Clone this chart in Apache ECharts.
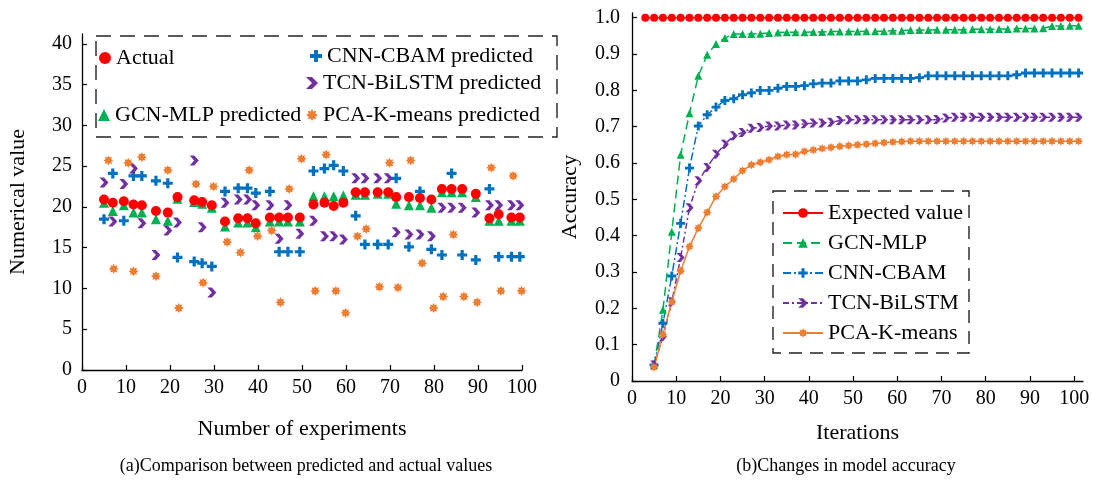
<!DOCTYPE html>
<html>
<head>
<meta charset="utf-8">
<script src="https://cdn.jsdelivr.net/npm/echarts@6/dist/echarts.min.js"></script>
<style>html,body{margin:0;padding:0;background:#fff;}#c{width:1093px;height:480px;}</style>
</head>
<body>
<div id="c"></div>
<script>
// ---------- Left chart data: (a) predicted vs actual ----------
const expX = [5, 7, 9.5, 11.7, 13.6, 16.8, 19.5, 21.7, 25.5, 27.3, 29.5, 32.5, 35.5, 37.6, 39.5, 42.7, 44.8, 46.8, 49.5, 52.6, 55.1, 57.2, 59.4, 62.2, 64.3, 67.2, 69.6, 71.4, 74.3, 76.8, 79.4, 81.8, 84, 86.4, 89.5, 92.6, 94.7, 97.6, 99.5];
const actualVals = [20.9, 20.5, 20.7, 20.3, 20.2, 19.5, 19.3, 21.2, 20.8, 20.6, 20.2, 18.2, 18.6, 18.6, 18.0, 18.7, 18.7, 18.7, 18.7, 20.3, 20.5, 20.1, 20.5, 21.8, 21.8, 21.8, 21.8, 21.2, 21.2, 21.1, 20.9, 22.2, 22.2, 22.2, 21.6, 18.6, 19.1, 18.7, 18.7];
const gcnPred = [20.5, 19.5, 20.2, 19.3, 19.3, 18.5, 18.3, 21.0, 20.6, 20.4, 19.9, 17.6, 18.1, 18.1, 17.5, 18.2, 18.2, 18.2, 18.2, 21.3, 21.3, 21.3, 21.4, 21.5, 21.5, 21.6, 21.6, 20.4, 20.2, 20.2, 19.9, 21.8, 21.8, 21.8, 21.2, 18.3, 18.3, 18.3, 18.3];
const cnnPred = [18.5, 24.1, 18.3, 23.8, 23.8, 23.2, 22.9, 13.8, 13.3, 13.1, 12.7, 21.9, 22.3, 22.3, 21.7, 21.9, 14.5, 14.5, 14.5, 24.4, 24.7, 25.1, 24.4, 18.9, 15.4, 15.4, 15.4, 23.5, 15.1, 21.9, 14.8, 14.1, 24.1, 14.1, 13.5, 22.2, 13.9, 13.9, 13.9];
const tcnPred = [23.0, 18.2, 22.8, 24.7, 18.0, 14.1, 17.1, 18.1, 25.7, 17.5, 9.5, 20.5, 20.9, 20.9, 20.2, 20.2, 16.1, 20.2, 16.7, 18.3, 16.4, 16.4, 16.0, 23.5, 23.5, 23.5, 23.5, 16.9, 16.6, 16.6, 16.4, 19.9, 19.9, 19.9, 19.3, 20.2, 20.2, 20.2, 20.2];
const pcaX = [6.0, 7.2, 10.5, 11.7, 13.6, 16.8, 19.5, 22.0, 25.9, 27.5, 29.9, 33.0, 36.0, 38.0, 39.9, 43.1, 45.1, 47.1, 49.9, 53.0, 55.5, 57.7, 59.9, 62.6, 64.6, 67.6, 69.9, 71.8, 74.7, 77.3, 79.9, 82.1, 84.4, 86.8, 89.8, 93.0, 95.2, 98.0, 99.9];
const pcaPred = [25.7, 12.4, 25.4, 12.1, 26.1, 11.5, 24.5, 7.6, 22.8, 10.7, 22.5, 15.7, 14.4, 24.5, 16.4, 17.1, 8.3, 22.2, 25.9, 9.7, 26.4, 9.7, 7.0, 16.4, 17.3, 10.2, 25.4, 10.1, 25.7, 13.1, 7.6, 9.0, 16.6, 9.0, 8.3, 24.8, 9.7, 23.8, 9.7];
const leftXTicks = [0, 10, 20, 30, 40, 50, 60, 70, 80, 90, 100];
const leftYTicks = [0, 5, 10, 15, 20, 25, 30, 35, 40];

// ---------- Right chart data: (b) accuracy vs iterations ----------
const expectedX = [3, 5, 7, 9, 11, 13, 15, 17, 19, 21, 23, 25, 27, 29, 31, 33, 35, 37, 39, 41, 43, 45, 47, 49, 51, 53, 55, 57, 59, 61, 63, 65, 67, 69, 71, 73, 75, 77, 79, 81, 83, 85, 87, 89, 91, 93, 95, 97, 99, 101];
const expectedVals = [1, 1, 1, 1, 1, 1, 1, 1, 1, 1, 1, 1, 1, 1, 1, 1, 1, 1, 1, 1, 1, 1, 1, 1, 1, 1, 1, 1, 1, 1, 1, 1, 1, 1, 1, 1, 1, 1, 1, 1, 1, 1, 1, 1, 1, 1, 1, 1, 1, 1];
const iterX = [5, 7, 9, 11, 13, 15, 17, 19, 21, 23, 25, 27, 29, 31, 33, 35, 37, 39, 41, 43, 45, 47, 49, 51, 53, 55, 57, 59, 61, 63, 65, 67, 69, 71, 73, 75, 77, 79, 81, 83, 85, 87, 89, 91, 93, 95, 97, 99, 101];
const gcnAcc = [0.044, 0.196, 0.411, 0.623, 0.737, 0.840, 0.898, 0.928, 0.944, 0.955, 0.955, 0.955, 0.956, 0.958, 0.959, 0.960, 0.960, 0.960, 0.961, 0.961, 0.962, 0.962, 0.962, 0.962, 0.963, 0.963, 0.963, 0.964, 0.964, 0.966, 0.966, 0.966, 0.967, 0.967, 0.967, 0.967, 0.968, 0.968, 0.968, 0.969, 0.969, 0.970, 0.970, 0.970, 0.971, 0.977, 0.977, 0.978, 0.978];
const cnnAcc = [0.044, 0.159, 0.289, 0.434, 0.586, 0.702, 0.733, 0.754, 0.772, 0.777, 0.788, 0.793, 0.800, 0.800, 0.806, 0.811, 0.811, 0.813, 0.818, 0.820, 0.820, 0.826, 0.826, 0.826, 0.829, 0.833, 0.833, 0.833, 0.833, 0.833, 0.835, 0.840, 0.840, 0.840, 0.840, 0.840, 0.840, 0.840, 0.840, 0.840, 0.840, 0.843, 0.848, 0.848, 0.848, 0.848, 0.848, 0.848, 0.848];
const tcnAcc = [0.044, 0.122, 0.218, 0.340, 0.477, 0.551, 0.588, 0.624, 0.652, 0.675, 0.684, 0.696, 0.698, 0.702, 0.702, 0.705, 0.705, 0.708, 0.710, 0.710, 0.712, 0.717, 0.719, 0.719, 0.719, 0.719, 0.719, 0.719, 0.719, 0.719, 0.719, 0.719, 0.720, 0.724, 0.726, 0.726, 0.726, 0.726, 0.726, 0.726, 0.726, 0.726, 0.726, 0.726, 0.726, 0.726, 0.726, 0.726, 0.726];
const pcaAcc = [0.038, 0.128, 0.218, 0.303, 0.370, 0.421, 0.464, 0.508, 0.535, 0.556, 0.579, 0.595, 0.602, 0.609, 0.618, 0.623, 0.624, 0.632, 0.636, 0.640, 0.643, 0.646, 0.648, 0.650, 0.652, 0.654, 0.656, 0.658, 0.659, 0.660, 0.660, 0.660, 0.660, 0.660, 0.660, 0.660, 0.660, 0.660, 0.660, 0.660, 0.660, 0.660, 0.660, 0.660, 0.660, 0.660, 0.660, 0.660, 0.660];
const rightXTicks = [0, 10, 20, 30, 40, 50, 60, 70, 80, 90, 100];
const rightYTicks = [0, 0.1, 0.2, 0.3, 0.4, 0.5, 0.6, 0.7, 0.8, 0.9, 1.0];

// ---------- styling ----------
const FONT = "'Liberation Serif', 'Times New Roman', serif";
const C = { red: '#FF0000', green: '#00B050', blue: '#0070C0', purple: '#7030A0', orange: '#ED7D31' };
const PLUS = 'path://M3.4,0 L6.6,0 L6.6,3.4 L10,3.4 L10,6.6 L6.6,6.6 L6.6,10 L3.4,10 L3.4,6.6 L0,6.6 L0,3.4 L3.4,3.4 Z';
const CHEV = 'path://M0,0 L5,0 L10,5 L5,10 L0,10 L5,5 Z';
function starPath(n, ro, ri) {
  let s = 'path://';
  for (let i = 0; i < 2 * n; i++) {
    const r = i % 2 ? ri : ro;
    const a = Math.PI * i / n - Math.PI / 2;
    s += (i ? 'L' : 'M') + (10 + r * Math.cos(a)).toFixed(2) + ',' + (10 + r * Math.sin(a)).toFixed(2) + ' ';
  }
  return s + 'Z';
}
const STAR = starPath(8, 10, 6.2);
const zip = (xs, ys) => xs.map((x, i) => [x, ys[i]]);

function tickCfg(vals) { return { show: true, inside: true, length: 5, customValues: vals, lineStyle: { color: '#000', width: 1.2 } }; }
function labelCfg(vals, margin, fmt) {
  const o = { color: '#000', fontFamily: FONT, fontSize: 20, margin: margin, customValues: vals };
  if (fmt) o.formatter = fmt;
  return o;
}
const axisLine = { show: true, onZero: false, lineStyle: { color: '#000', width: 1.3 } };
const nameStyle = { color: '#000', fontFamily: FONT, fontSize: 22 };

const legendText = { color: '#000', fontFamily: FONT, fontSize: 22, lineHeight: 24 };
function leftLegend(name, left, top) {
  return { data: [name], left: left, top: top, itemWidth: 12, itemHeight: 12, selectedMode: false, textStyle: legendText, padding: 0 };
}
function sc(color) { return { color: color, opacity: 1 }; }

const option = {
  backgroundColor: '#fff',
  animation: false,
  grid: [
    { left: 82, top: 34, width: 440, height: 336 },
    { left: 632, top: 13, width: 451, height: 368 }
  ],
  xAxis: [
    { gridIndex: 0, type: 'value', min: 0, max: 100, name: 'Number of experiments', nameLocation: 'middle', nameGap: 48, nameTextStyle: nameStyle,
      axisLine: axisLine, splitLine: { show: false }, axisTick: tickCfg(leftXTicks), axisLabel: labelCfg(leftXTicks, 8) },
    { gridIndex: 1, type: 'value', min: 0, max: 102, name: 'Iterations', nameLocation: 'middle', nameGap: 41, nameTextStyle: nameStyle,
      axisLine: axisLine, splitLine: { show: false }, axisTick: tickCfg(rightXTicks), axisLabel: labelCfg(rightXTicks, 8) }
  ],
  yAxis: [
    { gridIndex: 0, type: 'value', min: 0, max: 41.2, name: 'Numerical value', nameLocation: 'middle', nameGap: 53, nameTextStyle: nameStyle,
      axisLine: axisLine, splitLine: { show: false }, axisTick: tickCfg(leftYTicks), axisLabel: labelCfg(leftYTicks, 10) },
    { gridIndex: 1, type: 'value', min: 0, max: 1.013, name: 'Accuracy', nameLocation: 'middle', nameGap: 51, nameTextStyle: nameStyle,
      axisLine: axisLine, splitLine: { show: false }, axisTick: tickCfg(rightYTicks),
      axisLabel: labelCfg(rightYTicks, 12, v => (Math.abs(v) < 1e-9 ? '0' : v.toFixed(1))) }
  ],
  legend: [
    leftLegend('Actual', 99, 46),
    leftLegend('CNN-CBAM predicted', 310, 44),
    leftLegend('TCN-BiLSTM predicted', 306, 71),
    leftLegend('GCN-MLP predicted', 98, 103),
    leftLegend('PCA-K-means predicted', 306, 103),
    { data: ['Expected value', 'GCN-MLP', 'CNN-CBAM', 'TCN-BiLSTM', 'PCA-K-means'], orient: 'vertical', left: 782, top: 201,
      itemWidth: 40, itemHeight: 12, itemGap: 6, selectedMode: false, textStyle: legendText, padding: 0 }
  ],
  graphic: [
    { type: 'rect', shape: { x: 96, y: 36, width: 461, height: 101 }, style: { fill: 'none', stroke: '#222', lineWidth: 1.4, lineDash: [15, 9] }, z: 10 },
    { type: 'rect', shape: { x: 773, y: 191, width: 196, height: 162 }, style: { fill: 'none', stroke: '#222', lineWidth: 1.4, lineDash: [13, 8] }, z: 10 },
    { type: 'text', x: 306, y: 466, style: { text: '(a)Comparison between predicted and actual values', font: '18px ' + FONT, fill: '#000', align: 'center', verticalAlign: 'middle' } },
    { type: 'text', x: 846, y: 466, style: { text: '(b)Changes in model accuracy', font: '18px ' + FONT, fill: '#000', align: 'center', verticalAlign: 'middle' } }
  ],
  series: [
    { name: 'GCN-MLP predicted', type: 'scatter', xAxisIndex: 0, yAxisIndex: 0, data: zip(expX, gcnPred), symbol: 'triangle', symbolSize: 10, itemStyle: sc(C.green), z: 2 },
    { name: 'Actual', type: 'scatter', xAxisIndex: 0, yAxisIndex: 0, data: zip(expX, actualVals), symbol: 'circle', symbolSize: 10, itemStyle: sc(C.red), z: 3 },
    { name: 'CNN-CBAM predicted', type: 'scatter', xAxisIndex: 0, yAxisIndex: 0, data: zip(expX, cnnPred), symbol: PLUS, symbolSize: 10, itemStyle: sc(C.blue), z: 2 },
    { name: 'TCN-BiLSTM predicted', type: 'scatter', xAxisIndex: 0, yAxisIndex: 0, data: zip(expX, tcnPred), symbol: CHEV, symbolSize: [9, 10], itemStyle: sc(C.purple), z: 2 },
    { name: 'PCA-K-means predicted', type: 'scatter', xAxisIndex: 0, yAxisIndex: 0, data: zip(pcaX, pcaPred), symbol: STAR, symbolSize: 10, itemStyle: sc(C.orange), z: 2 },

    { name: 'Expected value', type: 'line', xAxisIndex: 1, yAxisIndex: 1, data: zip(expectedX, expectedVals), symbol: 'circle', symbolSize: 8, showSymbol: true,
      itemStyle: { color: C.red }, lineStyle: { color: C.red, width: 1.5 } },
    { name: 'GCN-MLP', type: 'line', xAxisIndex: 1, yAxisIndex: 1, data: zip(iterX, gcnAcc), symbol: 'triangle', symbolSize: 8, showSymbol: true,
      itemStyle: { color: C.green }, lineStyle: { color: C.green, width: 1.5, type: [9, 5] } },
    { name: 'CNN-CBAM', type: 'line', xAxisIndex: 1, yAxisIndex: 1, data: zip(iterX, cnnAcc), symbol: PLUS, symbolSize: 9, showSymbol: true,
      itemStyle: { color: C.blue }, lineStyle: { color: C.blue, width: 1.5, type: [8, 3, 2, 3] } },
    { name: 'TCN-BiLSTM', type: 'line', xAxisIndex: 1, yAxisIndex: 1, data: zip(iterX, tcnAcc), symbol: CHEV, symbolSize: [8, 9], showSymbol: true,
      itemStyle: { color: C.purple }, lineStyle: { color: C.purple, width: 1.5, type: [6, 3, 2, 3] } },
    { name: 'PCA-K-means', type: 'line', xAxisIndex: 1, yAxisIndex: 1, data: zip(iterX, pcaAcc), symbol: STAR, symbolSize: 9, showSymbol: true,
      itemStyle: { color: C.orange }, lineStyle: { color: C.orange, width: 1.5 } }
  ]
};
const chart = echarts.init(document.getElementById('c'), null, { renderer: 'canvas' });
chart.setOption(option);
</script>
</body>
</html>
